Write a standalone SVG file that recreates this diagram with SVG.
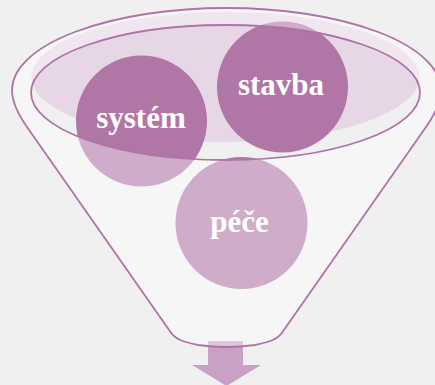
<svg xmlns="http://www.w3.org/2000/svg" width="435" height="385" viewBox="0 0 435 385">
<style>
.circle{fill:#b076a6}
.label{font-family:"Liberation Serif","Times New Roman",serif;font-weight:bold;font-size:31px;fill:#ffffff;text-anchor:middle}
.line{fill:none;stroke:#ae74a6;stroke-width:1.8}
</style>
<rect x="0" y="0" width="435" height="385" fill="#f0f0f0"/>
<g id="funnel-fill">
<ellipse cx="225.5" cy="77" rx="194" ry="65" fill="#e6d6e6"/>
</g>
<g id="node-system">
<circle class="circle" cx="141.5" cy="121" r="65.5"/>
</g>
<g id="node-stavba">
<circle class="circle" cx="282.5" cy="87" r="65.5"/>
</g>
<g id="node-pece">
<circle class="circle" cx="241.5" cy="223" r="66"/>
</g>
<g id="connectors">
<path d="M208,341 H243 V365 H261 L226.5,386 L192,365 H208 Z" fill="#c9a1c4"/>
</g>
<g id="funnel">
<path fill="#ffffff" fill-opacity="0.4" fill-rule="evenodd" d="M27,127 C18.6,115 12,102 12,90 A214.5,82 0 0 1 441,90 C441,102 434.4,115 426,127 L282.5,332 C278,339 270,342 255,345 Q226.5,349 198,345 C183,342 175,339 170.5,332 Z M31,92.5 A194.5,67.5 0 0 0 420,92.5 A194.5,67.5 0 0 0 31,92.5 Z"/>
<path class="line" d="M27,127 C18.6,115 12,102 12,90 A214.5,82 0 0 1 441,90 C441,102 434.4,115 426,127 L282.5,332 C278,339 270,342 255,345 Q226.5,349 198,345 C183,342 175,339 170.5,332 Z"/>
<ellipse class="line" cx="225.5" cy="92.5" rx="194.5" ry="67.5"/>
</g>
<text class="label" x="141" y="128">systém</text>
<text class="label" x="281" y="95">stavba</text>
<text class="label" x="239.5" y="232">péče</text>
</svg>
